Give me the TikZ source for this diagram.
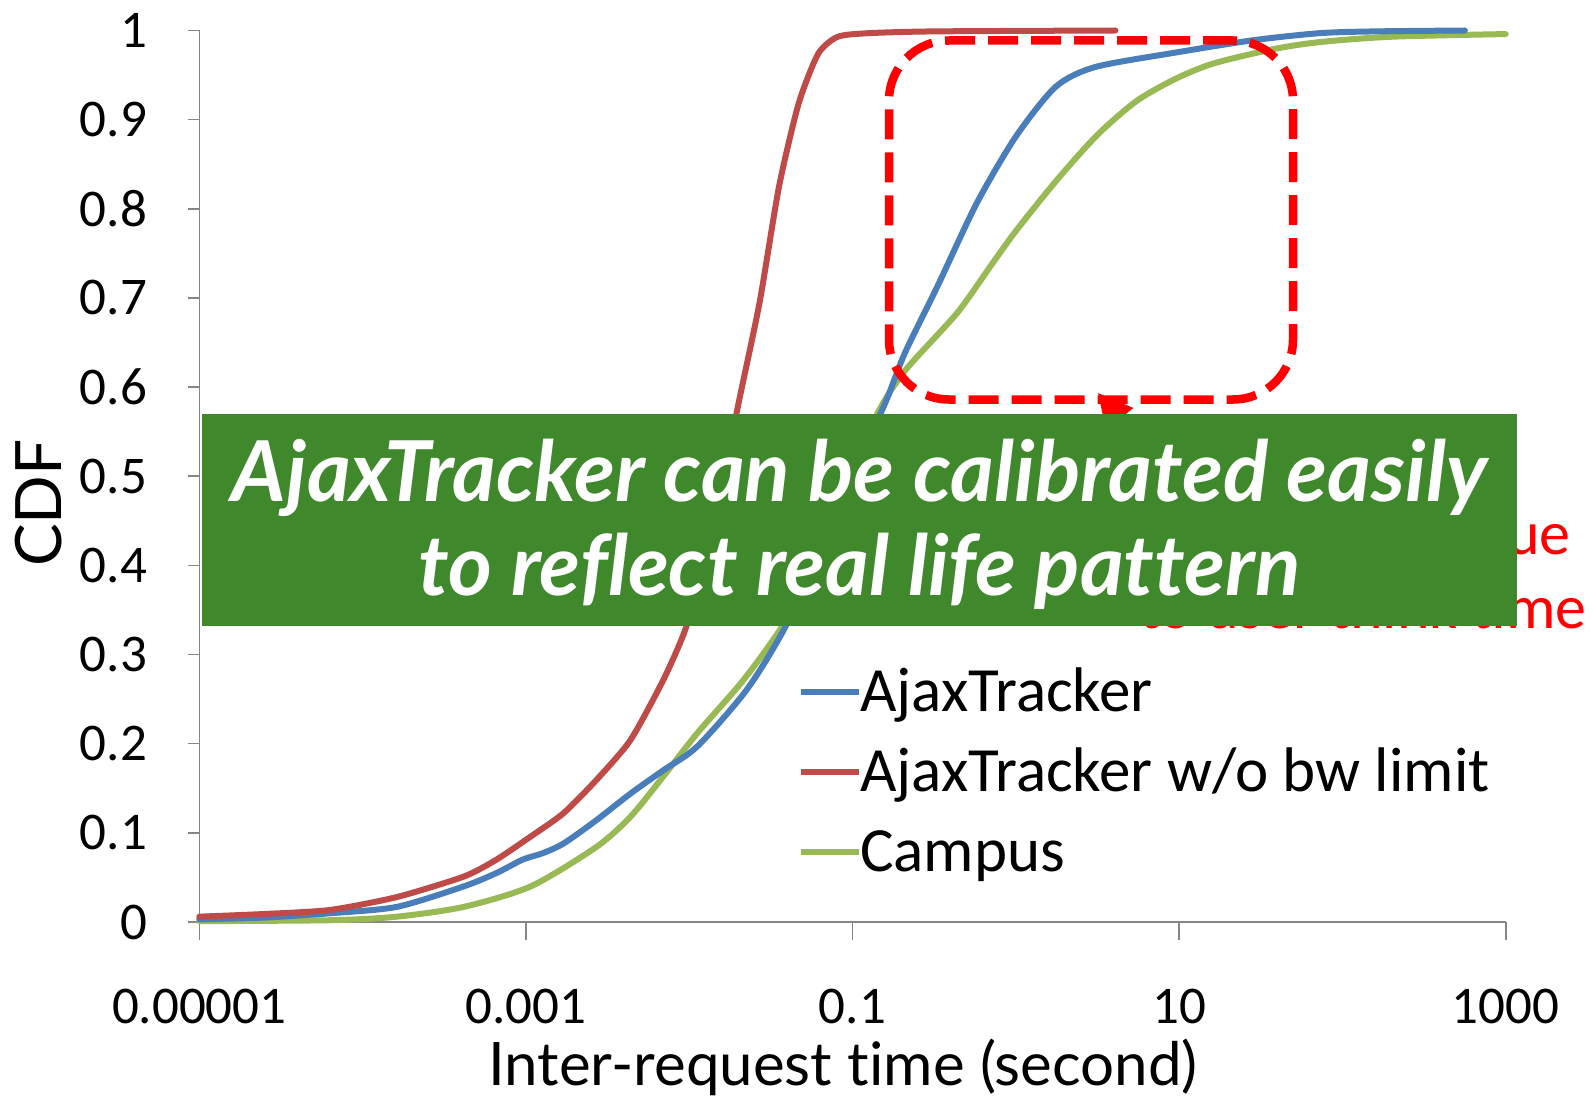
\documentclass[tikz,border=0pt]{standalone}
\usepackage{fontspec}
\newfontfamily\carlito{Carlito}
\newfontfamily\latofont[Ligatures={NoCommon}]{Lato}
\usetikzlibrary{arrows.meta}
\definecolor{axisgray}{HTML}{868686}
\definecolor{cblue}{HTML}{4A7EBB}
\definecolor{cred}{HTML}{BE4B48}
\definecolor{cgreen}{HTML}{98B954}
\definecolor{boxgreen}{HTML}{3F882B}
\definecolor{hlred}{HTML}{FF0000}
\tikzset{
  axisline/.style={draw=axisgray, line width=1.6pt},
  curve/.style={line width=6pt, line cap=round, line join=round},
  ticklab/.style={font=\carlito\fontsize{53}{60}\selectfont, inner sep=0pt, text=black},
  leglab/.style={font=\carlito\fontsize{63}{70}\selectfont, inner sep=0pt, anchor=base west, text=black},
  legline/.style={line width=6pt},
  msgtext/.style={font=\latofont\bfseries\itshape\fontsize{84}{90}\selectfont, text=white, inner sep=0pt, anchor=base},
  redtext/.style={font=\carlito\fontsize{62}{70}\selectfont, text=hlred, inner sep=0pt, anchor=base east},
}
\begin{document}
\begin{tikzpicture}[x=1pt, y=-1pt]
\useasboundingbox[fill=white] (0,0) rectangle (1594,1099);
% plot area
\begin{scope}[shift={(199.3pt,-922pt)}, x={(163.3pt,0pt)}, y={(0pt,891.5pt)}]
  \draw[axisline] (0,1) -- (0,0) -- (8,0);
  \foreach \c in {0,0.1,...,1.01} \draw[axisline] (0,\c) -- ++(-11pt,0);
  \foreach \u in {0,2,4,6,8} \draw[axisline] (\u,0) -- ++(0,-18pt);
  \foreach \c/\t [count=\i] in {0/0,0.1/0.1,0.2/0.2,0.3/0.3,0.4/0.4,0.5/0.5,0.6/0.6,0.7/0.7,0.8/0.8,0.9/0.9,1/1}
    \node[ticklab, anchor=east] (ylab\i) at ([xshift=-52pt]0,\c) {\t};
  \foreach \u/\t [count=\i] in {0/0.00001,2/0.001,4/0.1,6/10,8/1000}
    \node[ticklab, anchor=base] (xlab\i) at ([yshift=-101pt]\u,0) {\t};
  % green (Campus)
  \draw[curve, cgreen] plot[smooth, tension=0.45] coordinates {
    (0,0.001) (0.80,0.002) (1.21,0.006) (1.62,0.017) (2.03,0.040) (2.43,0.084)
    (2.64,0.118) (2.84,0.163) (3.05,0.212) (3.33,0.271) (3.57,0.332) (3.8,0.41)
    (4.0,0.50) (4.155,0.571) (4.324,0.619) (4.64,0.683) (4.85,0.737) (5.0,0.775)
    (5.25,0.832) (5.5,0.883) (5.74,0.921) (5.98,0.946) (6.21,0.963) (6.575,0.979)
    (6.86,0.987) (7.3,0.993) (8.0,0.996)};
  % blue (AjaxTracker)
  \draw[curve, cblue] plot[smooth, tension=0.45] coordinates {
    (0,0.003) (0.4,0.005) (0.80,0.0098) (1.21,0.017) (1.62,0.040) (1.82,0.055)
    (1.98,0.070) (2.1,0.077) (2.23,0.088) (2.43,0.114) (2.64,0.144) (2.84,0.170)
    (3.05,0.197) (3.35,0.26) (3.58,0.328) (3.85,0.43) (4.02,0.51) (4.2,0.582)
    (4.32,0.638) (4.52,0.713) (4.76,0.806) (5.0,0.881) (5.245,0.937) (5.485,0.959)
    (5.97,0.975) (6.45,0.989) (6.86,0.997) (7.2,0.999) (7.75,1.0)};
  % red (AjaxTracker w/o bw limit)
  \draw[curve, cred] plot[smooth, tension=0.4] coordinates {
    (0,0.006) (0.4,0.009) (0.80,0.0135) (1.21,0.028) (1.62,0.051) (1.82,0.070)
    (2.03,0.096) (2.23,0.122) (2.43,0.159) (2.64,0.204) (2.84,0.271) (2.97,0.325)
    (3.1,0.40) (3.2,0.48) (3.29,0.571) (3.43,0.694) (3.55,0.825) (3.67,0.918)
    (3.79,0.974) (3.91,0.993) (4.1,0.997) (4.5,0.999) (5.61,1.0)};
\end{scope}
% legend
\coordinate (lg1a) at (801,692); \coordinate (lg1b) at (859,692);
\coordinate (lg2a) at (801,772); \coordinate (lg2b) at (859,772);
\coordinate (lg3a) at (801,852); \coordinate (lg3b) at (859,852);
\draw[legline, cblue] (lg1a) -- (lg1b);
\draw[legline, cred] (lg2a) -- (lg2b);
\draw[legline, cgreen] (lg3a) -- (lg3b);
\node[leglab] (leg1) at (860,711.6) {AjaxTracker};
\node[leglab] (leg2) at (860,791) {AjaxTracker w/o bw limit};
\node[leglab] (leg3) at (860,871) {Campus};
% axis titles
\node[font=\latofont\fontsize{60}{66}\selectfont, anchor=base, inner sep=0pt] (xtitle) at (843,1085) {Inter-request time (second)};
\node[font=\latofont\fontsize{64}{70}\selectfont, rotate=90, inner sep=0pt] (ytitle) at (39,503) {CDF};
% highlight box
\node[draw=hlred, line width=8.5pt, dash pattern=on 30pt off 13pt, rounded corners=60pt,
      minimum width=404pt, minimum height=359pt, inner sep=0pt] (hlbox) at (1091,220) {};
% red annotation (mostly hidden)
\node[redtext] (red1) at (1571,554) {Long tail is due};
\node[redtext] (red2) at (1587,628) {to user think time};
\coordinate (arrstart) at (1170,480);
\coordinate (arrtip) at (1098,393);
\draw[hlred, line width=5pt, -{Triangle[length=34pt,width=34pt]}] (arrstart) -- (arrtip);
% green message box
\node[fill=boxgreen, minimum width=1314.5pt, minimum height=212.4pt, inner sep=0pt] (msgbox) at (859.5,520) {};
\node[msgtext] (msg1) at (859.5,501) {AjaxTracker can be calibrated easily};
\node[msgtext] (msg2) at (859.5,595) {to reflect real life pattern};
\end{tikzpicture}
\end{document}
